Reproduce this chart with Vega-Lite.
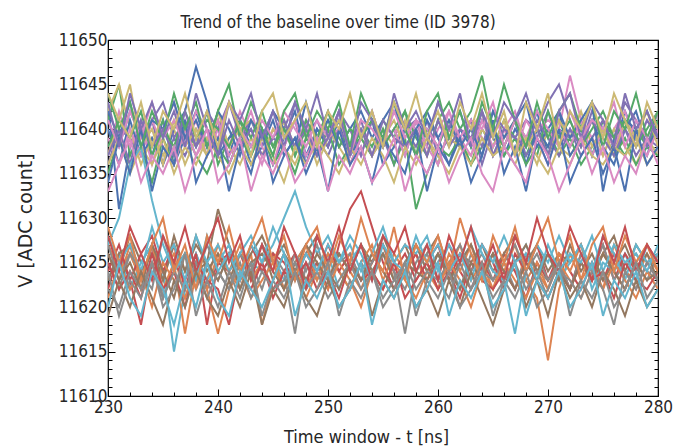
{
"$schema": "https://vega.github.io/schema/vega-lite/v6.json",
"width": 550, "height": 356,
"autosize": "none",
"padding": {"left": 108, "top": 40, "right": 33, "bottom": 50},
"background": "white",
"config": {"view": {"stroke": "#000", "strokeWidth": 1.2}, "font": "DejaVu Sans Condensed"},
"title": {"text": "Trend of the baseline over time (ID 3978)", "fontSize": 17, "font": "DejaVu Sans Condensed", "fontWeight": "normal", "color": "#262626", "anchor": "middle", "dx": -45, "dy": 26, "baseline": "alphabetic", "offset": 12},
"datasets": {
"dummy": [{"t": 230, "v": 11630}],
"base": [
{"t":230,"b1":11643,"o1":11626,"g1":11641,"r1":11622,"p1":11636,"n1":11627,"k1":11637,"y1":11625,"l1":11642,"c1":11623,"b2":11640,"o2":11627,"g2":11635,"r2":11624,"p2":11641,"n2":11623,"k2":11639,"y2":11627,"l2":11637,"c2":11628,"b3":11642,"o3":11621,"g3":11638,"r3":11625,"p3":11637,"n3":11626,"k3":11641,"y3":11622,"l3":11636,"c3":11627,"b4":11634,"o4":11629,"g4":11644,"r4":11628,"p4":11643,"n4":11619,"k4":11633,"y4":11624,"l4":11644,"c4":11620},
{"t":231,"b1":11631,"o1":11623,"g1":11645,"r1":11626,"p1":11640,"n1":11624,"k1":11642,"y1":11622,"l1":11645,"c1":11626,"b2":11636,"o2":11624,"g2":11639,"r2":11627,"p2":11638,"n2":11626,"k2":11636,"y2":11623,"l2":11641,"c2":11625,"b3":11639,"o3":11625,"g3":11641,"r3":11622,"p3":11640,"n3":11623,"k3":11638,"y3":11620,"l3":11639,"c3":11630,"b4":11639,"o4":11625,"g4":11640,"r4":11624,"p4":11638,"n4":11623,"k4":11636,"y4":11619,"l4":11641,"c4":11625},
{"t":232,"b1":11638,"o1":11627,"g1":11637,"r1":11623,"p1":11639,"n1":11628,"k1":11638,"y1":11626,"l1":11640,"c1":11622,"b2":11641,"o2":11626,"g2":11636,"r2":11623,"p2":11642,"n2":11627,"k2":11640,"y2":11626,"l2":11645,"c2":11627,"b3":11643,"o3":11622,"g3":11639,"r3":11624,"p3":11636,"n3":11625,"k3":11642,"y3":11624,"l3":11635,"c3":11636,"b4":11635,"o4":11628,"g4":11643,"r4":11629,"p4":11644,"n4":11620,"k4":11639,"y4":11623,"l4":11639,"c4":11621},
{"t":233,"b1":11640,"o1":11622,"g1":11640,"r1":11618,"p1":11637,"n1":11625,"k1":11641,"y1":11623,"l1":11636,"c1":11625,"b2":11637,"o2":11623,"g2":11638,"r2":11626,"p2":11639,"n2":11624,"k2":11637,"y2":11624,"l2":11638,"c2":11624,"b3":11638,"o3":11624,"g3":11642,"r3":11621,"p3":11641,"n3":11622,"k3":11639,"y3":11622,"l3":11638,"c3":11638,"b4":11640,"o4":11623,"g4":11638,"r4":11626,"p4":11640,"n4":11624,"k4":11634,"y4":11621,"l4":11643,"c4":11619},
{"t":234,"b1":11637,"o1":11625,"g1":11638,"r1":11625,"p1":11641,"n1":11627,"k1":11636,"y1":11627,"l1":11639,"c1":11627,"b2":11639,"o2":11627,"g2":11634,"r2":11628,"p2":11641,"n2":11626,"k2":11641,"y2":11622,"l2":11640,"c2":11629,"b3":11641,"o3":11620,"g3":11637,"r3":11626,"p3":11638,"n3":11627,"k3":11643,"y3":11625,"l3":11636,"c3":11632,"b4":11633,"o4":11627,"g4":11642,"r4":11623,"p4":11643,"n4":11621,"k4":11637,"y4":11625,"l4":11638,"c4":11624},
{"t":235,"b1":11641,"o1":11624,"g1":11641,"r1":11621,"p1":11636,"n1":11623,"k1":11640,"y1":11621,"l1":11637,"c1":11624,"b2":11636,"o2":11622,"g2":11639,"r2":11624,"p2":11643,"n2":11623,"k2":11638,"y2":11628,"l2":11636,"c2":11625,"b3":11640,"o3":11625,"g3":11640,"r3":11622,"p3":11640,"n3":11624,"k3":11639,"y3":11621,"l3":11639,"c3":11627,"b4":11638,"o4":11630,"g4":11639,"r4":11628,"p4":11639,"n4":11618,"k4":11635,"y4":11620,"l4":11642,"c4":11622},
{"t":236,"b1":11636,"o1":11626,"g1":11637,"r1":11625,"p1":11639,"n1":11628,"k1":11643,"y1":11624,"l1":11640,"c1":11615,"b2":11640,"o2":11625,"g2":11636,"r2":11627,"p2":11639,"n2":11627,"k2":11636,"y2":11624,"l2":11641,"c2":11627,"b3":11643,"o3":11623,"g3":11638,"r3":11624,"p3":11637,"n3":11621,"k3":11641,"y3":11624,"l3":11635,"c3":11624,"b4":11636,"o4":11624,"g4":11644,"r4":11625,"p4":11642,"n4":11623,"k4":11638,"y4":11622,"l4":11640,"c4":11618},
{"t":237,"b1":11639,"o1":11621,"g1":11640,"r1":11623,"p1":11637,"n1":11624,"k1":11638,"y1":11626,"l1":11636,"c1":11622,"b2":11642,"o2":11617,"g2":11640,"r2":11622,"p2":11641,"n2":11624,"k2":11640,"y2":11626,"l2":11638,"c2":11623,"b3":11639,"o3":11621,"g3":11642,"r3":11620,"p3":11642,"n3":11626,"k3":11638,"y3":11622,"l3":11638,"c3":11626,"b4":11641,"o4":11627,"g4":11640,"r4":11629,"p4":11638,"n4":11620,"k4":11633,"y4":11626,"l4":11644,"c4":11623},
{"t":238,"b1":11642,"o1":11625,"g1":11638,"r1":11626,"p1":11640,"n1":11627,"k1":11641,"y1":11622,"l1":11639,"c1":11626,"b2":11647,"o2":11624,"g2":11637,"r2":11626,"p2":11638,"n2":11628,"k2":11637,"y2":11623,"l2":11640,"c2":11628,"b3":11641,"o3":11624,"g3":11639,"r3":11625,"p3":11638,"n3":11624,"k3":11642,"y3":11625,"l3":11636,"c3":11623,"b4":11634,"o4":11622,"g4":11643,"r4":11624,"p4":11644,"n4":11624,"k4":11637,"y4":11619,"l4":11639,"c4":11620},
{"t":239,"b1":11638,"o1":11623,"g1":11642,"r1":11622,"p1":11638,"n1":11625,"k1":11637,"y1":11625,"l1":11637,"c1":11623,"b2":11643,"o2":11622,"g2":11635,"r2":11618,"p2":11642,"n2":11624,"k2":11639,"y2":11627,"l2":11637,"c2":11625,"b3":11638,"o3":11622,"g3":11641,"r3":11623,"p3":11640,"n3":11625,"k3":11640,"y3":11621,"l3":11639,"c3":11628,"b4":11637,"o4":11628,"g4":11638,"r4":11627,"p4":11640,"n4":11621,"k4":11640,"y4":11623,"l4":11642,"c4":11625},
{"t":240,"b1":11640,"o1":11627,"g1":11636,"r1":11625,"p1":11641,"n1":11631,"k1":11640,"y1":11623,"l1":11641,"c1":11625,"b2":11637,"o2":11626,"g2":11638,"r2":11625,"p2":11640,"n2":11626,"k2":11641,"y2":11624,"l2":11642,"c2":11627,"b3":11642,"o3":11617,"g3":11640,"r3":11622,"p3":11637,"n3":11623,"k3":11639,"y3":11624,"l3":11637,"c3":11624,"b4":11639,"o4":11625,"g4":11642,"r4":11630,"p4":11637,"n4":11619,"k4":11634,"y4":11620,"l4":11638,"c4":11621},
{"t":241,"b1":11637,"o1":11624,"g1":11639,"r1":11624,"p1":11636,"n1":11627,"k1":11638,"y1":11626,"l1":11638,"c1":11627,"b2":11639,"o2":11624,"g2":11636,"r2":11626,"p2":11643,"n2":11623,"k2":11637,"y2":11622,"l2":11638,"c2":11624,"b3":11640,"o3":11622,"g3":11638,"r3":11618,"p3":11641,"n3":11626,"k3":11643,"y3":11622,"l3":11635,"c3":11626,"b4":11633,"o4":11629,"g4":11645,"r4":11625,"p4":11643,"n4":11623,"k4":11636,"y4":11624,"l4":11643,"c4":11619},
{"t":242,"b1":11641,"o1":11622,"g1":11641,"r1":11626,"p1":11639,"n1":11624,"k1":11642,"y1":11623,"l1":11636,"c1":11622,"b2":11640,"o2":11627,"g2":11639,"r2":11623,"p2":11639,"n2":11626,"k2":11639,"y2":11626,"l2":11640,"c2":11626,"b3":11637,"o3":11624,"g3":11641,"r3":11624,"p3":11638,"n3":11622,"k3":11640,"y3":11625,"l3":11638,"c3":11623,"b4":11638,"o4":11624,"g4":11639,"r4":11628,"p4":11641,"n4":11620,"k4":11639,"y4":11621,"l4":11640,"c4":11624},
{"t":243,"b1":11638,"o1":11626,"g1":11637,"r1":11623,"p1":11640,"n1":11626,"k1":11639,"y1":11625,"l1":11639,"c1":11625,"b2":11636,"o2":11623,"g2":11637,"r2":11627,"p2":11641,"n2":11624,"k2":11642,"y2":11624,"l2":11641,"c2":11628,"b3":11641,"o3":11621,"g3":11639,"r3":11622,"p3":11640,"n3":11625,"k3":11638,"y3":11621,"l3":11636,"c3":11627,"b4":11635,"o4":11627,"g4":11643,"r4":11623,"p4":11644,"n4":11624,"k4":11633,"y4":11625,"l4":11637,"c4":11622},
{"t":244,"b1":11640,"o1":11618,"g1":11640,"r1":11625,"p1":11637,"n1":11628,"k1":11636,"y1":11622,"l1":11637,"c1":11624,"b2":11638,"o2":11625,"g2":11640,"r2":11624,"p2":11638,"n2":11627,"k2":11638,"y2":11627,"l2":11639,"c2":11625,"b3":11639,"o3":11623,"g3":11642,"r3":11625,"p3":11637,"n3":11626,"k3":11641,"y3":11624,"l3":11639,"c3":11625,"b4":11640,"o4":11630,"g4":11640,"r4":11627,"p4":11639,"n4":11618,"k4":11637,"y4":11619,"l4":11642,"c4":11620},
{"t":245,"b1":11636,"o1":11623,"g1":11638,"r1":11622,"p1":11639,"n1":11625,"k1":11640,"y1":11626,"l1":11640,"c1":11626,"b2":11641,"o2":11626,"g2":11636,"r2":11626,"p2":11642,"n2":11623,"k2":11636,"y2":11625,"l2":11637,"c2":11627,"b3":11642,"o3":11625,"g3":11638,"r3":11621,"p3":11639,"n3":11624,"k3":11639,"y3":11622,"l3":11637,"c3":11629,"b4":11634,"o4":11625,"g4":11637,"r4":11624,"p4":11642,"n4":11622,"k4":11635,"y4":11623,"l4":11644,"c4":11623},
{"t":246,"b1":11639,"o1":11626,"g1":11641,"r1":11624,"p1":11638,"n1":11627,"k1":11638,"y1":11624,"l1":11638,"c1":11623,"b2":11637,"o2":11622,"g2":11638,"r2":11625,"p2":11640,"n2":11626,"k2":11640,"y2":11622,"l2":11641,"c2":11630,"b3":11640,"o3":11622,"g3":11640,"r3":11624,"p3":11641,"n3":11622,"k3":11642,"y3":11623,"l3":11634,"c3":11626,"b4":11637,"o4":11628,"g4":11642,"r4":11629,"p4":11638,"n4":11620,"k4":11638,"y4":11621,"l4":11639,"c4":11626},
{"t":247,"b1":11642,"o1":11624,"g1":11637,"r1":11626,"p1":11641,"n1":11624,"k1":11641,"y1":11617,"l1":11636,"c1":11625,"b2":11639,"o2":11625,"g2":11635,"r2":11623,"p2":11643,"n2":11624,"k2":11638,"y2":11626,"l2":11638,"c2":11633,"b3":11638,"o3":11624,"g3":11637,"r3":11623,"p3":11638,"n3":11625,"k3":11640,"y3":11625,"l3":11638,"c3":11623,"b4":11639,"o4":11623,"g4":11644,"r4":11626,"p4":11643,"n4":11624,"k4":11634,"y4":11624,"l4":11641,"c4":11619},
{"t":248,"b1":11637,"o1":11622,"g1":11640,"r1":11623,"p1":11636,"n1":11626,"k1":11637,"y1":11625,"l1":11639,"c1":11627,"b2":11636,"o2":11627,"g2":11639,"r2":11626,"p2":11639,"n2":11627,"k2":11641,"y2":11624,"l2":11640,"c2":11629,"b3":11643,"o3":11621,"g3":11641,"r3":11625,"p3":11640,"n3":11623,"k3":11638,"y3":11622,"l3":11636,"c3":11626,"b4":11635,"o4":11627,"g4":11639,"r4":11622,"p4":11640,"n4":11621,"k4":11636,"y4":11620,"l4":11643,"c4":11623},
{"t":249,"b1":11640,"o1":11625,"g1":11638,"r1":11625,"p1":11639,"n1":11628,"k1":11639,"y1":11623,"l1":11637,"c1":11624,"b2":11640,"o2":11623,"g2":11637,"r2":11624,"p2":11641,"n2":11625,"k2":11637,"y2":11627,"l2":11636,"c2":11626,"b3":11639,"o3":11624,"g3":11639,"r3":11622,"p3":11637,"n3":11626,"k3":11641,"y3":11624,"l3":11639,"c3":11624,"b4":11638,"o4":11629,"g4":11642,"r4":11628,"p4":11644,"n4":11619,"k4":11639,"y4":11622,"l4":11638,"c4":11621},
{"t":250,"b1":11638,"o1":11623,"g1":11641,"r1":11622,"p1":11637,"n1":11625,"k1":11642,"y1":11626,"l1":11640,"c1":11626,"b2":11638,"o2":11626,"g2":11640,"r2":11627,"p2":11638,"n2":11623,"k2":11639,"y2":11623,"l2":11639,"c2":11628,"b3":11641,"o3":11622,"g3":11642,"r3":11624,"p3":11639,"n3":11624,"k3":11639,"y3":11621,"l3":11637,"c3":11627,"b4":11633,"o4":11624,"g4":11640,"r4":11625,"p4":11639,"n4":11623,"k4":11633,"y4":11625,"l4":11642,"c4":11624},
{"t":251,"b1":11641,"o1":11626,"g1":11639,"r1":11627,"p1":11640,"n1":11626,"k1":11638,"y1":11624,"l1":11638,"c1":11622,"b2":11642,"o2":11624,"g2":11636,"r2":11624,"p2":11642,"n2":11626,"k2":11640,"y2":11625,"l2":11641,"c2":11625,"b3":11638,"o3":11625,"g3":11638,"r3":11621,"p3":11642,"n3":11622,"k3":11642,"y3":11623,"l3":11635,"c3":11625,"b4":11640,"o4":11628,"g4":11643,"r4":11629,"p4":11642,"n4":11620,"k4":11637,"y4":11619,"l4":11640,"c4":11620},
{"t":252,"b1":11636,"o1":11624,"g1":11637,"r1":11631,"p1":11638,"n1":11624,"k1":11640,"y1":11622,"l1":11636,"c1":11625,"b2":11637,"o2":11622,"g2":11638,"r2":11626,"p2":11640,"n2":11624,"k2":11636,"y2":11626,"l2":11638,"c2":11627,"b3":11640,"o3":11623,"g3":11640,"r3":11625,"p3":11638,"n3":11625,"k3":11637,"y3":11625,"l3":11638,"c3":11628,"b4":11636,"o4":11625,"g4":11638,"r4":11624,"p4":11637,"n4":11622,"k4":11635,"y4":11623,"l4":11644,"c4":11622},
{"t":253,"b1":11639,"o1":11622,"g1":11640,"r1":11633,"p1":11641,"n1":11627,"k1":11637,"y1":11625,"l1":11639,"c1":11627,"b2":11639,"o2":11625,"g2":11639,"r2":11623,"p2":11637,"n2":11627,"k2":11639,"y2":11623,"l2":11640,"c2":11624,"b3":11642,"o3":11620,"g3":11639,"r3":11623,"p3":11640,"n3":11623,"k3":11641,"y3":11622,"l3":11636,"c3":11626,"b4":11638,"o4":11630,"g4":11644,"r4":11627,"p4":11643,"n4":11625,"k4":11638,"y4":11621,"l4":11639,"c4":11625},
{"t":254,"b1":11642,"o1":11625,"g1":11638,"r1":11629,"p1":11637,"n1":11625,"k1":11641,"y1":11623,"l1":11637,"c1":11624,"b2":11641,"o2":11627,"g2":11637,"r2":11625,"p2":11641,"n2":11624,"k2":11642,"y2":11625,"l2":11637,"c2":11626,"b3":11639,"o3":11624,"g3":11641,"r3":11624,"p3":11637,"n3":11626,"k3":11640,"y3":11624,"l3":11639,"c3":11623,"b4":11634,"o4":11626,"g4":11641,"r4":11623,"p4":11641,"n4":11619,"k4":11634,"y4":11624,"l4":11642,"c4":11618},
{"t":255,"b1":11638,"o1":11627,"g1":11641,"r1":11625,"p1":11639,"n1":11628,"k1":11638,"y1":11626,"l1":11640,"c1":11626,"b2":11636,"o2":11623,"g2":11640,"r2":11627,"p2":11639,"n2":11626,"k2":11638,"y2":11627,"l2":11639,"c2":11629,"b3":11641,"o3":11622,"g3":11638,"r3":11622,"p3":11641,"n3":11624,"k3":11638,"y3":11621,"l3":11637,"c3":11627,"b4":11639,"o4":11624,"g4":11639,"r4":11628,"p4":11638,"n4":11623,"k4":11636,"y4":11620,"l4":11638,"c4":11623},
{"t":256,"b1":11640,"o1":11623,"g1":11639,"r1":11622,"p1":11636,"n1":11625,"k1":11640,"y1":11624,"l1":11638,"c1":11623,"b2":11638,"o2":11626,"g2":11636,"r2":11624,"p2":11642,"n2":11623,"k2":11640,"y2":11624,"l2":11641,"c2":11625,"b3":11643,"o3":11625,"g3":11640,"r3":11625,"p3":11639,"n3":11622,"k3":11642,"y3":11623,"l3":11634,"c3":11625,"b4":11637,"o4":11629,"g4":11643,"r4":11626,"p4":11644,"n4":11621,"k4":11639,"y4":11622,"l4":11643,"c4":11621},
{"t":257,"b1":11637,"o1":11624,"g1":11642,"r1":11624,"p1":11640,"n1":11627,"k1":11639,"y1":11622,"l1":11641,"c1":11625,"b2":11640,"o2":11624,"g2":11639,"r2":11626,"p2":11640,"n2":11625,"k2":11637,"y2":11617,"l2":11638,"c2":11627,"b3":11638,"o3":11623,"g3":11642,"r3":11621,"p3":11638,"n3":11625,"k3":11639,"y3":11625,"l3":11638,"c3":11624,"b4":11635,"o4":11623,"g4":11640,"r4":11629,"p4":11640,"n4":11624,"k4":11633,"y4":11625,"l4":11640,"c4":11624},
{"t":258,"b1":11641,"o1":11626,"g1":11637,"r1":11626,"p1":11638,"n1":11624,"k1":11641,"y1":11625,"l1":11637,"c1":11627,"b2":11637,"o2":11627,"g2":11631,"r2":11623,"p2":11641,"n2":11627,"k2":11641,"y2":11624,"l2":11640,"c2":11626,"b3":11640,"o3":11621,"g3":11639,"r3":11623,"p3":11640,"n3":11624,"k3":11641,"y3":11622,"l3":11636,"c3":11628,"b4":11640,"o4":11627,"g4":11637,"r4":11624,"p4":11642,"n4":11620,"k4":11637,"y4":11619,"l4":11644,"c4":11620},
{"t":259,"b1":11639,"o1":11622,"g1":11640,"r1":11623,"p1":11641,"n1":11626,"k1":11637,"y1":11627,"l1":11639,"c1":11624,"b2":11641,"o2":11625,"g2":11635,"r2":11625,"p2":11638,"n2":11624,"k2":11638,"y2":11626,"l2":11637,"c2":11628,"b3":11642,"o3":11624,"g3":11637,"r3":11625,"p3":11637,"n3":11623,"k3":11640,"y3":11624,"l3":11639,"c3":11625,"b4":11633,"o4":11625,"g4":11642,"r4":11627,"p4":11639,"n4":11622,"k4":11635,"y4":11623,"l4":11639,"c4":11622},
{"t":260,"b1":11636,"o1":11625,"g1":11638,"r1":11625,"p1":11637,"n1":11628,"k1":11640,"y1":11623,"l1":11636,"c1":11626,"b2":11639,"o2":11622,"g2":11638,"r2":11627,"p2":11643,"n2":11626,"k2":11636,"y2":11623,"l2":11641,"c2":11624,"b3":11639,"o3":11622,"g3":11641,"r3":11622,"p3":11641,"n3":11626,"k3":11638,"y3":11623,"l3":11637,"c3":11627,"b4":11638,"o4":11628,"g4":11644,"r4":11623,"p4":11643,"n4":11619,"k4":11638,"y4":11621,"l4":11642,"c4":11625},
{"t":261,"b1":11640,"o1":11624,"g1":11641,"r1":11627,"p1":11639,"n1":11624,"k1":11642,"y1":11625,"l1":11640,"c1":11623,"b2":11636,"o2":11626,"g2":11637,"r2":11623,"p2":11640,"n2":11623,"k2":11640,"y2":11625,"l2":11639,"c2":11627,"b3":11641,"o3":11625,"g3":11643,"r3":11624,"p3":11638,"n3":11624,"k3":11642,"y3":11621,"l3":11635,"c3":11624,"b4":11636,"o4":11624,"g4":11639,"r4":11628,"p4":11640,"n4":11623,"k4":11634,"y4":11624,"l4":11638,"c4":11619},
{"t":262,"b1":11642,"o1":11627,"g1":11639,"r1":11624,"p1":11638,"n1":11626,"k1":11638,"y1":11622,"l1":11638,"c1":11625,"b2":11640,"o2":11624,"g2":11639,"r2":11626,"p2":11639,"n2":11625,"k2":11639,"y2":11627,"l2":11638,"c2":11625,"b3":11638,"o3":11623,"g3":11640,"r3":11621,"p3":11640,"n3":11622,"k3":11639,"y3":11625,"l3":11638,"c3":11626,"b4":11639,"o4":11630,"g4":11642,"r4":11625,"p4":11644,"n4":11620,"k4":11637,"y4":11620,"l4":11643,"c4":11623},
{"t":263,"b1":11638,"o1":11623,"g1":11636,"r1":11622,"p1":11641,"n1":11625,"k1":11641,"y1":11626,"l1":11637,"c1":11627,"b2":11638,"o2":11627,"g2":11636,"r2":11624,"p2":11641,"n2":11627,"k2":11637,"y2":11624,"l2":11640,"c2":11629,"b3":11640,"o3":11620,"g3":11642,"r3":11625,"p3":11639,"n3":11625,"k3":11641,"y3":11622,"l3":11636,"c3":11623,"b4":11634,"o4":11626,"g4":11638,"r4":11629,"p4":11638,"n4":11624,"k4":11639,"y4":11622,"l4":11640,"c4":11621},
{"t":264,"b1":11641,"o1":11625,"g1":11640,"r1":11625,"p1":11636,"n1":11627,"k1":11639,"y1":11624,"l1":11640,"c1":11624,"b2":11642,"o2":11623,"g2":11638,"r2":11627,"p2":11638,"n2":11624,"k2":11641,"y2":11626,"l2":11642,"c2":11626,"b3":11637,"o3":11624,"g3":11646,"r3":11623,"p3":11642,"n3":11623,"k3":11640,"y3":11624,"l3":11639,"c3":11627,"b4":11637,"o4":11623,"g4":11643,"r4":11624,"p4":11642,"n4":11621,"k4":11635,"y4":11625,"l4":11644,"c4":11624},
{"t":265,"b1":11639,"o1":11622,"g1":11638,"r1":11623,"p1":11640,"n1":11624,"k1":11637,"y1":11623,"l1":11638,"c1":11626,"b2":11637,"o2":11626,"g2":11640,"r2":11625,"p2":11642,"n2":11626,"k2":11638,"y2":11623,"l2":11637,"c2":11624,"b3":11642,"o3":11622,"g3":11640,"r3":11622,"p3":11637,"n3":11626,"k3":11643,"y3":11621,"l3":11637,"c3":11625,"b4":11641,"o4":11628,"g4":11640,"r4":11627,"p4":11639,"n4":11618,"k4":11633,"y4":11619,"l4":11639,"c4":11620},
{"t":266,"b1":11637,"o1":11626,"g1":11641,"r1":11626,"p1":11638,"n1":11626,"k1":11640,"y1":11625,"l1":11641,"c1":11622,"b2":11639,"o2":11624,"g2":11637,"r2":11622,"p2":11640,"n2":11623,"k2":11640,"y2":11625,"l2":11639,"c2":11623,"b3":11639,"o3":11625,"g3":11638,"r3":11624,"p3":11640,"n3":11624,"k3":11638,"y3":11623,"l3":11638,"c3":11628,"b4":11635,"o4":11625,"g4":11645,"r4":11623,"p4":11643,"n4":11622,"k4":11638,"y4":11623,"l4":11642,"c4":11622},
{"t":267,"b1":11640,"o1":11624,"g1":11639,"r1":11624,"p1":11641,"n1":11628,"k1":11642,"y1":11622,"l1":11637,"c1":11625,"b2":11641,"o2":11627,"g2":11639,"r2":11626,"p2":11639,"n2":11625,"k2":11637,"y2":11627,"l2":11641,"c2":11617,"b3":11641,"o3":11623,"g3":11641,"r3":11622,"p3":11639,"n3":11622,"k3":11641,"y3":11625,"l3":11636,"c3":11625,"b4":11638,"o4":11629,"g4":11641,"r4":11628,"p4":11641,"n4":11625,"k4":11636,"y4":11621,"l4":11637,"c4":11625},
{"t":268,"b1":11638,"o1":11623,"g1":11637,"r1":11621,"p1":11637,"n1":11625,"k1":11638,"y1":11626,"l1":11639,"c1":11627,"b2":11636,"o2":11623,"g2":11636,"r2":11624,"p2":11641,"n2":11627,"k2":11641,"y2":11624,"l2":11638,"c2":11624,"b3":11643,"o3":11621,"g3":11639,"r3":11625,"p3":11638,"n3":11625,"k3":11639,"y3":11622,"l3":11639,"c3":11626,"b4":11633,"o4":11624,"g4":11638,"r4":11625,"p4":11644,"n4":11620,"k4":11634,"y4":11624,"l4":11643,"c4":11619},
{"t":269,"b1":11642,"o1":11621,"g1":11640,"r1":11625,"p1":11639,"n1":11627,"k1":11640,"y1":11624,"l1":11636,"c1":11624,"b2":11640,"o2":11625,"g2":11638,"r2":11627,"p2":11640,"n2":11624,"k2":11639,"y2":11626,"l2":11640,"c2":11627,"b3":11638,"o3":11624,"g3":11637,"r3":11623,"p3":11641,"n3":11623,"k3":11642,"y3":11624,"l3":11637,"c3":11623,"b4":11639,"o4":11627,"g4":11643,"r4":11630,"p4":11640,"n4":11623,"k4":11639,"y4":11620,"l4":11640,"c4":11623},
{"t":270,"b1":11637,"o1":11614,"g1":11638,"r1":11623,"p1":11642,"n1":11624,"k1":11641,"y1":11623,"l1":11640,"c1":11626,"b2":11638,"o2":11622,"g2":11640,"r2":11623,"p2":11643,"n2":11626,"k2":11636,"y2":11623,"l2":11637,"c2":11625,"b3":11640,"o3":11622,"g3":11642,"r3":11621,"p3":11639,"n3":11626,"k3":11640,"y3":11621,"l3":11635,"c3":11627,"b4":11636,"o4":11630,"g4":11639,"r4":11626,"p4":11637,"n4":11619,"k4":11637,"y4":11622,"l4":11644,"c4":11621},
{"t":271,"b1":11640,"o1":11622,"g1":11641,"r1":11626,"p1":11638,"n1":11626,"k1":11640,"y1":11625,"l1":11638,"c1":11623,"b2":11642,"o2":11626,"g2":11637,"r2":11625,"p2":11645,"n2":11623,"k2":11640,"y2":11625,"l2":11641,"c2":11628,"b3":11642,"o3":11625,"g3":11639,"r3":11624,"p3":11637,"n3":11624,"k3":11638,"y3":11624,"l3":11638,"c3":11624,"b4":11640,"o4":11625,"g4":11642,"r4":11624,"p4":11642,"n4":11624,"k4":11633,"y4":11625,"l4":11638,"c4":11624},
{"t":272,"b1":11639,"o1":11626,"g1":11638,"r1":11624,"p1":11640,"n1":11625,"k1":11646,"y1":11622,"l1":11637,"c1":11625,"b2":11637,"o2":11624,"g2":11639,"r2":11622,"p2":11641,"n2":11627,"k2":11638,"y2":11622,"l2":11639,"c2":11625,"b3":11639,"o3":11623,"g3":11641,"r3":11622,"p3":11640,"n3":11622,"k3":11642,"y3":11623,"l3":11636,"c3":11626,"b4":11634,"o4":11628,"g4":11644,"r4":11629,"p4":11644,"n4":11621,"k4":11636,"y4":11619,"l4":11642,"c4":11620},
{"t":273,"b1":11641,"o1":11623,"g1":11640,"r1":11622,"p1":11637,"n1":11627,"k1":11641,"y1":11625,"l1":11639,"c1":11627,"b2":11639,"o2":11627,"g2":11636,"r2":11626,"p2":11638,"n2":11624,"k2":11641,"y2":11626,"l2":11642,"c2":11627,"b3":11641,"o3":11621,"g3":11638,"r3":11625,"p3":11638,"n3":11625,"k3":11639,"y3":11621,"l3":11639,"c3":11625,"b4":11637,"o4":11623,"g4":11640,"r4":11626,"p4":11639,"n4":11623,"k4":11639,"y4":11623,"l4":11640,"c4":11622},
{"t":274,"b1":11637,"o1":11625,"g1":11637,"r1":11625,"p1":11639,"n1":11624,"k1":11639,"y1":11623,"l1":11641,"c1":11622,"b2":11641,"o2":11623,"g2":11638,"r2":11624,"p2":11642,"n2":11626,"k2":11637,"y2":11624,"l2":11638,"c2":11624,"b3":11643,"o3":11624,"g3":11640,"r3":11623,"p3":11641,"n3":11623,"k3":11641,"y3":11624,"l3":11637,"c3":11628,"b4":11639,"o4":11627,"g4":11643,"r4":11623,"p4":11643,"n4":11620,"k4":11635,"y4":11621,"l4":11643,"c4":11625},
{"t":275,"b1":11640,"o1":11622,"g1":11641,"r1":11623,"p1":11641,"n1":11626,"k1":11637,"y1":11626,"l1":11637,"c1":11625,"b2":11638,"o2":11626,"g2":11640,"r2":11627,"p2":11640,"n2":11623,"k2":11640,"y2":11627,"l2":11640,"c2":11628,"b3":11633,"o3":11622,"g3":11642,"r3":11624,"p3":11639,"n3":11626,"k3":11640,"y3":11622,"l3":11636,"c3":11624,"b4":11635,"o4":11629,"g4":11638,"r4":11628,"p4":11641,"n4":11624,"k4":11638,"y4":11624,"l4":11639,"c4":11619},
{"t":276,"b1":11638,"o1":11627,"g1":11639,"r1":11626,"p1":11638,"n1":11628,"k1":11640,"y1":11624,"l1":11640,"c1":11624,"b2":11636,"o2":11624,"g2":11637,"r2":11623,"p2":11639,"n2":11625,"k2":11638,"y2":11623,"l2":11637,"c2":11626,"b3":11639,"o3":11625,"g3":11639,"r3":11621,"p3":11637,"n3":11624,"k3":11643,"y3":11618,"l3":11638,"c3":11627,"b4":11638,"o4":11624,"g4":11642,"r4":11625,"p4":11638,"n4":11622,"k4":11634,"y4":11620,"l4":11644,"c4":11623},
{"t":277,"b1":11642,"o1":11624,"g1":11637,"r1":11624,"p1":11640,"n1":11624,"k1":11642,"y1":11622,"l1":11638,"c1":11626,"b2":11640,"o2":11622,"g2":11639,"r2":11626,"p2":11643,"n2":11627,"k2":11641,"y2":11625,"l2":11641,"c2":11623,"b3":11641,"o3":11623,"g3":11641,"r3":11625,"p3":11640,"n3":11622,"k3":11638,"y3":11624,"l3":11637,"c3":11625,"b4":11633,"o4":11628,"g4":11640,"r4":11629,"p4":11644,"n4":11619,"k4":11637,"y4":11622,"l4":11641,"c4":11621},
{"t":278,"b1":11639,"o1":11623,"g1":11640,"r1":11622,"p1":11637,"n1":11627,"k1":11638,"y1":11625,"l1":11636,"c1":11623,"b2":11642,"o2":11625,"g2":11636,"r2":11624,"p2":11641,"n2":11624,"k2":11639,"y2":11626,"l2":11639,"c2":11627,"b3":11640,"o3":11621,"g3":11638,"r3":11623,"p3":11638,"n3":11625,"k3":11641,"y3":11622,"l3":11639,"c3":11626,"b4":11640,"o4":11625,"g4":11644,"r4":11624,"p4":11640,"n4":11623,"k4":11635,"y4":11625,"l4":11638,"c4":11624},
{"t":279,"b1":11637,"o1":11626,"g1":11638,"r1":11625,"p1":11639,"n1":11625,"k1":11641,"y1":11623,"l1":11639,"c1":11627,"b2":11638,"o2":11627,"g2":11638,"r2":11627,"p2":11638,"n2":11626,"k2":11637,"y2":11624,"l2":11642,"c2":11625,"b3":11642,"o3":11624,"g3":11640,"r3":11622,"p3":11641,"n3":11623,"k3":11639,"y3":11625,"l3":11636,"c3":11624,"b4":11636,"o4":11627,"g4":11639,"r4":11627,"p4":11642,"n4":11620,"k4":11639,"y4":11621,"l4":11643,"c4":11620},
{"t":280,"b1":11641,"o1":11624,"g1":11641,"r1":11623,"p1":11638,"n1":11626,"k1":11639,"y1":11626,"l1":11637,"c1":11625,"b2":11640,"o2":11624,"g2":11637,"r2":11625,"p2":11642,"n2":11623,"k2":11640,"y2":11623,"l2":11638,"c2":11626,"b3":11639,"o3":11622,"g3":11642,"r3":11624,"p3":11639,"n3":11624,"k3":11642,"y3":11623,"l3":11638,"c3":11627,"b4":11638,"o4":11624,"g4":11642,"r4":11625,"p4":11639,"n4":11622,"k4":11636,"y4":11623,"l4":11640,"c4":11622}
]},
"layer": [
{"data": {"name": "base"},
 "transform": [{"fold": ["b1","o1","g1","r1","p1","n1","k1","y1","l1","c1","b2","o2","g2","r2","p2","n2","k2","y2","l2","c2","b3","o3","g3","r3","p3","n3","k3","y3","l3","c3","b4","o4","g4","r4","p4","n4","k4","y4","l4","c4"], "as": ["s","v"]}],
 "mark": {"type": "line", "strokeWidth": 2, "clip": true},
 "encoding": {
  "x": {"field": "t", "type": "quantitative", "scale": {"domain": [230, 280], "nice": false, "zero": false},
   "axis": {"orient": "bottom", "values": [230,240,250,260,270,280], "tickSize": -7, "tickColor": "#000", "tickWidth": 1, "domain": false, "grid": false, "labelFont": "DejaVu Sans Condensed", "labelFontSize": 17, "labelColor": "#262626", "labelPadding": 10, "labelFlush": false, "labelOverlap": false, "title": "Time window - t [ns]", "titleFont": "DejaVu Sans Condensed", "titleFontSize": 18, "titleFontWeight": "normal", "titleColor": "#262626", "titleX": 258, "titleY": 46, "titleAlign": "center", "titleBaseline": "alphabetic"}},
  "y": {"field": "v", "type": "quantitative", "scale": {"domain": [11610, 11650], "nice": false, "zero": false},
   "axis": {"orient": "left", "values": [11610,11615,11620,11625,11630,11635,11640,11645,11650], "format": "d", "tickSize": -7, "tickColor": "#000", "tickWidth": 1, "domain": false, "grid": false, "labelFont": "DejaVu Sans Condensed", "labelFontSize": 17, "labelColor": "#262626", "labelPadding": 8, "labelFlush": false, "labelOverlap": false, "title": "V [ADC count]", "titleFont": "DejaVu Sans", "titleFontSize": 19, "titleFontWeight": "normal", "titleColor": "#262626", "titleX": -83, "titleY": 180, "titleAngle": 270, "titleAlign": "center", "titleBaseline": "middle"}},
  "color": {"field": "s", "type": "nominal", "legend": null,
   "scale": {"domain": ["b1","o1","g1","r1","p1","n1","k1","y1","l1","c1","b2","o2","g2","r2","p2","n2","k2","y2","l2","c2","b3","o3","g3","r3","p3","n3","k3","y3","l3","c3","b4","o4","g4","r4","p4","n4","k4","y4","l4","c4"],
    "range": ["#4C72B0","#DD8452","#55A868","#C44E52","#8172B3","#937860","#DA8BC3","#8C8C8C","#CCB974","#64B5CD","#4C72B0","#DD8452","#55A868","#C44E52","#8172B3","#937860","#DA8BC3","#8C8C8C","#CCB974","#64B5CD","#4C72B0","#DD8452","#55A868","#C44E52","#8172B3","#937860","#DA8BC3","#8C8C8C","#CCB974","#64B5CD","#4C72B0","#DD8452","#55A868","#C44E52","#8172B3","#937860","#DA8BC3","#8C8C8C","#CCB974","#64B5CD"]}}
 }},
{"data": {"name": "dummy"},
 "mark": {"type": "point", "opacity": 0},
 "encoding": {
  "x": {"field": "t", "type": "quantitative", "axis": {"orient": "top", "values": [230,240,250,260,270,280], "tickSize": -7, "tickColor": "#000", "domain": false, "grid": false, "labels": false, "title": null}},
  "y": {"field": "v", "type": "quantitative", "axis": {"orient": "right", "values": [11610,11615,11620,11625,11630,11635,11640,11645,11650], "tickSize": -7, "tickColor": "#000", "domain": false, "grid": false, "labels": false, "title": null}}
 }},
{"data": {"name": "dummy"},
 "mark": {"type": "point", "opacity": 0},
 "encoding": {
  "x": {"field": "t", "type": "quantitative", "axis": {"orient": "bottom", "values": [232,234,236,238,242,244,246,248,252,254,256,258,262,264,266,268,272,274,276,278], "tickSize": -4, "tickColor": "#000", "domain": false, "grid": false, "labels": false, "title": null}},
  "y": {"field": "v", "type": "quantitative", "axis": {"orient": "left", "values": [11611,11612,11613,11614,11616,11617,11618,11619,11621,11622,11623,11624,11626,11627,11628,11629,11631,11632,11633,11634,11636,11637,11638,11639,11641,11642,11643,11644,11646,11647,11648,11649], "tickSize": -4, "tickColor": "#000", "domain": false, "grid": false, "labels": false, "title": null}}
 }},
{"data": {"name": "dummy"},
 "mark": {"type": "point", "opacity": 0},
 "encoding": {
  "x": {"field": "t", "type": "quantitative", "axis": {"orient": "top", "values": [232,234,236,238,242,244,246,248,252,254,256,258,262,264,266,268,272,274,276,278], "tickSize": -4, "tickColor": "#000", "domain": false, "grid": false, "labels": false, "title": null}},
  "y": {"field": "v", "type": "quantitative", "axis": {"orient": "right", "values": [11611,11612,11613,11614,11616,11617,11618,11619,11621,11622,11623,11624,11626,11627,11628,11629,11631,11632,11633,11634,11636,11637,11638,11639,11641,11642,11643,11644,11646,11647,11648,11649], "tickSize": -4, "tickColor": "#000", "domain": false, "grid": false, "labels": false, "title": null}}
 }}
],
"resolve": {"axis": {"x": "independent", "y": "independent"}}
}
